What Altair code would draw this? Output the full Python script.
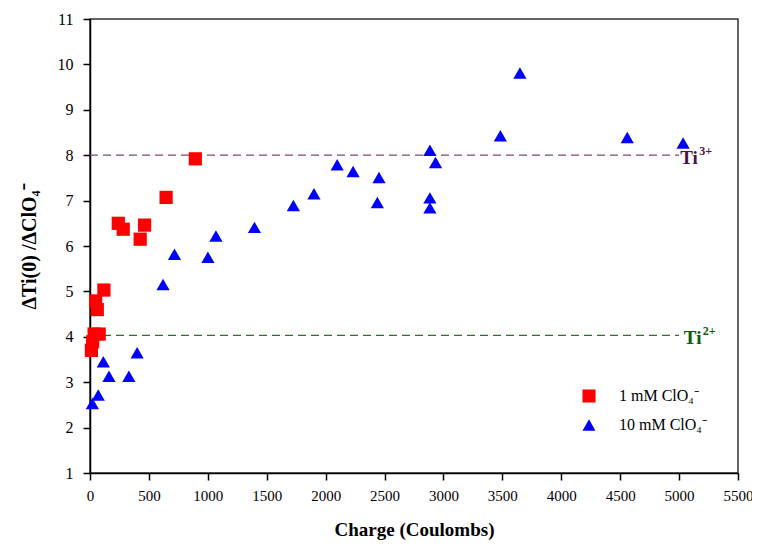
import altair as alt
import pandas as pd

# 1 mM ClO4- series
red_x = [12, 22, 35, 78, 48, 62, 118, 240, 282, 426, 463, 646, 894]
red_y = [3.70, 3.89, 4.06, 4.06, 4.79, 4.60, 5.03, 6.50, 6.37, 6.15, 6.46, 7.07, 7.92]

# 10 mM ClO4- series
blue_x = [20, 70, 113, 161, 330, 400, 620, 717, 1001, 1069, 1396, 1726, 1901, 2098,
          2233, 2453, 2439, 2885, 2933, 2885, 2885, 3483, 3649, 4560, 5034]
blue_y = [2.53, 2.72, 3.45, 3.13, 3.13, 3.65, 5.15, 5.82, 5.75, 6.22, 6.41, 6.89, 7.15, 7.79,
          7.64, 7.51, 6.96, 8.11, 7.84, 7.06, 6.84, 8.43, 9.81, 8.39, 8.27]

series_names = ["1 mM ClO\u2084\u207b", "10 mM ClO\u2084\u207b"]

ref_levels = [8.0, 4.03]
ref_base = ["Ti", "Ti"]
ref_sup = ["3+", "2+"]
ref_line_colors = ["#7a4a7a", "#2f6f2f"]
ref_text_colors = ["#4a1248", "#0c5a0c"]
ref_x_start = [0, 0]
ref_x_end = [5000, 5000]
ref_label_x = [5010, 5040]

x_ticks = list(range(0, 5501, 500))
y_ticks = list(range(1, 12))

pts = pd.DataFrame({
    "x": red_x + blue_x,
    "y": red_y + blue_y,
    "s": [series_names[0]] * len(red_x) + [series_names[1]] * len(blue_x),
})

refs = pd.DataFrame({
    "y": ref_levels, "base": ref_base, "sup": ref_sup, "lc": ref_line_colors,
    "tc": ref_text_colors, "x0": ref_x_start, "x1": ref_x_end, "lx": ref_label_x,
})

font = "Liberation Serif"
axis_font = "'Liberation Serif', 'Times New Roman', serif"

xs = alt.Scale(domain=[0, 5500], nice=False, zero=False)
ys = alt.Scale(domain=[1, 11], nice=False, zero=False)

x_axis = alt.Axis(values=x_ticks, title="Charge (Coulombs)", format="d", tickSize=7,
                  labelPadding=8, titlePadding=17, labelFontSize=15, titleFontSize=19,
                  labelFont=axis_font, titleFont=axis_font)
y_axis = alt.Axis(values=y_ticks, title="\u0394Ti(0) /\u0394ClO\u2084\u207b", format="d", tickSize=7,
                  labelPadding=10, titlePadding=18, labelFontSize=16, titleFontSize=20,
                  labelFont=axis_font, titleFont=axis_font)

lines = alt.Chart(refs).mark_rule(strokeDash=[8, 5], strokeWidth=1.3).encode(
    x=alt.X("x0:Q", scale=xs, axis=x_axis),
    x2="x1:Q",
    y=alt.Y("y:Q", scale=ys, axis=y_axis),
    color=alt.Color("lc:N", scale=None),
)

labels = alt.Chart(refs).mark_text(align="left", baseline="middle", font=font,
                                   fontSize=19, fontWeight="bold", dy=3).encode(
    x=alt.X("lx:Q", scale=xs, axis=x_axis),
    y=alt.Y("y:Q", scale=ys, axis=y_axis),
    text="base:N",
    color=alt.Color("tc:N", scale=None),
)

sups = alt.Chart(refs).mark_text(align="left", baseline="middle", font=font,
                                 fontSize=12, fontWeight="bold", dx=19, dy=-4).encode(
    x=alt.X("lx:Q", scale=xs, axis=x_axis),
    y=alt.Y("y:Q", scale=ys, axis=y_axis),
    text="sup:N",
    color=alt.Color("tc:N", scale=None),
)

leg = alt.Legend(title=None, orient="none", legendX=491, legendY=369,
                 labelFont=font, labelFontSize=16, labelColor="black",
                 symbolSize=170, rowPadding=13, labelOffset=22,
                 padding=0, symbolStrokeWidth=0)

points = alt.Chart(pts).mark_point(filled=True, opacity=1, strokeWidth=0).encode(
    x=alt.X("x:Q", scale=xs, axis=x_axis),
    y=alt.Y("y:Q", scale=ys, axis=y_axis),
    shape=alt.Shape("s:N", scale=alt.Scale(domain=series_names, range=["square", "triangle-up"]),
                    legend=leg),
    color=alt.Color("s:N", scale=alt.Scale(domain=series_names, range=["#ff0000", "#0000ff"]),
                    legend=leg),
    size=alt.value(175),
)

chart = alt.layer(lines, labels, sups, points).properties(
    width=648, height=454,
    autosize=alt.AutoSizeParams(type="none"),
    padding={"left": 82, "top": 11, "right": 14, "bottom": 68},
    background="white",
).configure(font=font).configure_view(stroke="#333333", strokeWidth=1.5).configure_axis(
    grid=False, labelFont=axis_font, titleFont=axis_font,
    titleFontWeight="bold", domainColor="black", tickColor="black", labelColor="black",
    titleColor="black", domainWidth=1.5, tickWidth=1.5, labelFlush=False,
).configure_text(font=font)

chart.save("out.html", embed_options={"renderer": "svg", "actions": False})
